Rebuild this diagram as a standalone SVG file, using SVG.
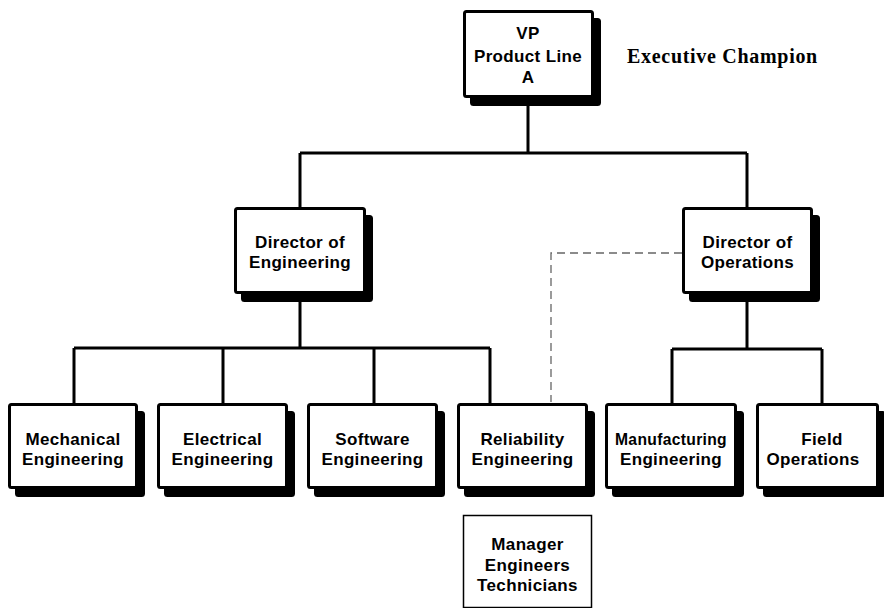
<svg xmlns="http://www.w3.org/2000/svg" width="884" height="608" viewBox="0 0 884 608">
<style>
.box{fill:#fff;stroke:#000;stroke-width:3}
.sh{fill:#000;stroke:#000;stroke-width:3}
.t{font-family:"Liberation Sans",Arial,sans-serif;font-weight:bold;font-size:17px;letter-spacing:0.35px;fill:#000;text-anchor:middle}
.ln{fill:none;stroke:#000;stroke-width:3}
.dash{fill:none;stroke:#666;stroke-width:1.3;stroke-dasharray:8 5}
</style>
<rect width="884" height="608" fill="#fff"/>
<g id="connectors">
<path class="ln" d="M528,106 V153 M300,153 H747 M300,153 V208 M747,153 V208"/>
<path class="ln" d="M300,298 V348 M74,348 H490 M74,348 V404 M223,348 V404 M374,348 V404 M490,348 V404"/>
<path class="ln" d="M747,298 V349 M672,349 H822 M672,349 V404 M822,349 V404"/>
<path class="dash" d="M682,253 H551 V402"/>
</g>
<g id="vp">
<rect class="sh" x="471.5" y="19.5" width="128" height="85" rx="2"/>
<rect class="box" x="464.5" y="11.5" width="128" height="85" rx="2"/>
<text class="t"><tspan x="528" y="39">VP</tspan><tspan x="528" y="62">Product Line</tspan><tspan x="528" y="83">A</tspan></text>
</g>
<text id="exec" x="627" y="63" style="font-family:'Liberation Serif','Times New Roman',serif;font-weight:bold;font-size:20px;letter-spacing:0.7px">Executive Champion</text>
<g id="dir-eng">
<rect class="sh" x="242.5" y="216.5" width="129" height="84" rx="2"/>
<rect class="box" x="235.5" y="208.5" width="129" height="84" rx="2"/>
<text class="t"><tspan x="300" y="248">Director of</tspan><tspan x="300" y="268">Engineering</tspan></text>
</g>
<g id="dir-ops">
<rect class="sh" x="690.5" y="216.5" width="128" height="84" rx="2"/>
<rect class="box" x="683.5" y="208.5" width="128" height="84" rx="2"/>
<text class="t"><tspan x="747.5" y="248">Director of</tspan><tspan x="747.5" y="268">Operations</tspan></text>
</g>
<g id="mech">
<rect class="sh" x="16.5" y="412.5" width="127" height="83" rx="2"/>
<rect class="box" x="9.5" y="404.5" width="127" height="83" rx="2"/>
<text class="t"><tspan x="73" y="445">Mechanical</tspan><tspan x="73" y="465">Engineering</tspan></text>
</g>
<g id="elec">
<rect class="sh" x="165.5" y="412.5" width="128" height="83" rx="2"/>
<rect class="box" x="158.5" y="404.5" width="128" height="83" rx="2"/>
<text class="t"><tspan x="222.5" y="445">Electrical</tspan><tspan x="222.5" y="465">Engineering</tspan></text>
</g>
<g id="soft">
<rect class="sh" x="315.5" y="412.5" width="128" height="83" rx="2"/>
<rect class="box" x="308.5" y="404.5" width="128" height="83" rx="2"/>
<text class="t"><tspan x="372.5" y="445">Software</tspan><tspan x="372.5" y="465">Engineering</tspan></text>
</g>
<g id="rel">
<rect class="sh" x="465.5" y="412.5" width="128" height="83" rx="2"/>
<rect class="box" x="458.5" y="404.5" width="128" height="83" rx="2"/>
<text class="t"><tspan x="522.5" y="445">Reliability</tspan><tspan x="522.5" y="465">Engineering</tspan></text>
</g>
<g id="mfg">
<rect class="sh" x="613.5" y="412.5" width="129" height="83" rx="2"/>
<rect class="box" x="606.5" y="404.5" width="129" height="83" rx="2"/>
<text class="t"><tspan x="671" y="445" textLength="112" lengthAdjust="spacingAndGlyphs">Manufacturing</tspan><tspan x="671" y="465">Engineering</tspan></text>
</g>
<g id="field">
<rect class="sh" x="764.5" y="412.5" width="120" height="83" rx="2"/>
<rect class="box" x="757.5" y="404.5" width="120" height="83" rx="2"/>
<text class="t"><tspan x="822" y="445">Field</tspan><tspan x="813" y="465">Operations</tspan></text>
</g>
<g id="mgr">
<rect x="463.5" y="515.5" width="128" height="92" fill="#fff" stroke="#000" stroke-width="1.5"/>
<text class="t"><tspan x="527.5" y="550">Manager</tspan><tspan x="527.5" y="571">Engineers</tspan><tspan x="527.5" y="591">Technicians</tspan></text>
</g>
</svg>
